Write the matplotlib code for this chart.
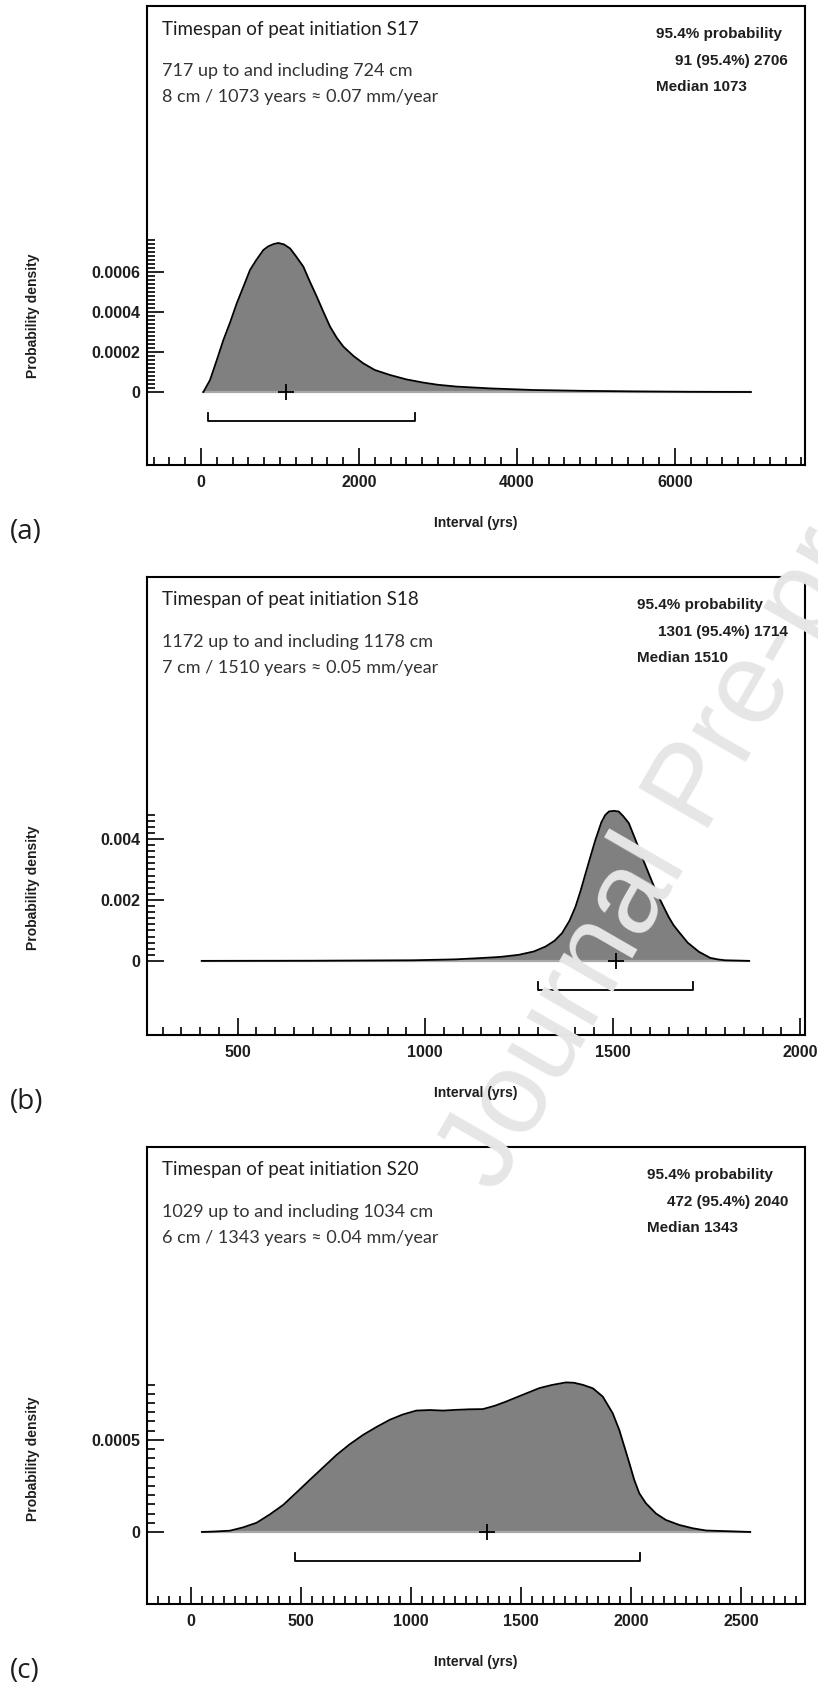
import numpy as np
import matplotlib
matplotlib.use('Agg')
import matplotlib.pyplot as plt

plt.rcParams['font.family'] = ['Liberation Sans', 'DejaVu Sans']

W, H = 818, 1691

# --- data ------------------------------------------------------------------
a_years = [30, 114, 200, 283, 370, 452, 540, 620, 700, 789, 850, 920, 979,
           1050, 1127, 1200, 1295, 1380, 1465, 1550, 1633, 1720, 1802, 1930,
           2055, 2200, 2393, 2600, 2814, 3000, 3237, 3659, 4200, 4800, 5500,
           6200, 6960]
a_dens = [0, 0.00006, 0.00016, 0.00026, 0.00035, 0.000443, 0.00053, 0.00061,
          0.00066, 0.00071, 0.000728, 0.00074, 0.000745, 0.000738, 0.000718,
          0.00068, 0.000627, 0.00055, 0.000477, 0.0004, 0.000327, 0.00027,
          0.000227, 0.00018, 0.000143, 0.00011, 0.000085, 0.000063, 0.000047,
          0.000036, 0.000027, 0.000018, 0.00001, 0.000006, 0.000003, 0.000001,
          0]

b_years = [404, 700, 966, 1080, 1144, 1200, 1250, 1290, 1321, 1345, 1365,
           1385, 1401, 1415, 1428, 1441, 1454, 1470, 1480, 1490, 1503, 1516,
           1528, 1543, 1560, 1578, 1596, 1614, 1632, 1649, 1662, 1676, 1688,
           1700, 1715, 1730, 1745, 1760, 1780, 1800, 1864]
b_dens = [0, 0.000005, 0.00002, 0.00005, 0.00009, 0.00013, 0.0002, 0.00031,
          0.00047, 0.00066, 0.00091, 0.00132, 0.00178, 0.00232, 0.00288,
          0.00343, 0.00397, 0.00455, 0.00478, 0.0049, 0.00492, 0.0049, 0.00475,
          0.00452, 0.004, 0.00342, 0.00287, 0.00233, 0.00187, 0.00145, 0.00118,
          0.00096, 0.00078, 0.0006, 0.00045, 0.0003, 0.0002, 0.0001, 0.00005,
          0.00002, 0]

c_years = [50, 100, 177, 237, 298, 358, 419, 480, 540, 600, 661, 720, 782, 843,
           903, 963, 1024, 1085, 1145, 1205, 1264, 1326, 1380, 1432, 1508, 1583,
           1640, 1704, 1740, 1780, 1826, 1871, 1916, 1946, 1969, 1992, 2014,
           2037, 2067, 2113, 2158, 2219, 2280, 2340, 2541]
c_dens = [0, 0.000002, 0.000007, 0.000025, 0.00005, 0.000095, 0.000147,
          0.000215, 0.000283, 0.00035, 0.000418, 0.000475, 0.000527, 0.00057,
          0.000609, 0.000638, 0.000659, 0.000662, 0.000659, 0.000663, 0.000666,
          0.000667, 0.000685, 0.000708, 0.000745, 0.000781, 0.000798, 0.000812,
          0.00081, 0.000799, 0.00078, 0.000735, 0.000645, 0.000554, 0.000464,
          0.000373, 0.000283, 0.00021, 0.000156, 0.0001, 0.000065, 0.000038,
          0.00002, 0.000008, 0]

ranges = [(91, 2706), (1301, 1714), (472, 2040)]
medians = [1073, 1510, 1343]

titles = ['Timespan of peat initiation S17',
          'Timespan of peat initiation S18',
          'Timespan of peat initiation S20']
depths = ['717 up to and including 724 cm',
          '1172 up to and including 1178 cm',
          '1029 up to and including 1034 cm']
rates = ['8 cm / 1073 years \u2248 0.07 mm/year',
         '7 cm / 1510 years \u2248 0.05 mm/year',
         '6 cm / 1343 years \u2248 0.04 mm/year']
letters = ['(a)', '(b)', '(c)']

# --- per panel layout ------------------------------------------------------
frame_top = [6, 577, 1147]       # px from top
frame_bot = [465, 1035, 1604]
xlims = [(-684, 7646), (258, 2013), (-200, 2790)]
ylims = [(-0.000365, 0.00193), (-0.00243, 0.01259), (-0.000391, 0.00209)]
xmajor = [2000, 500, 500]
xminor = [200, 50, 50]
ymajor = [[0, 0.0002, 0.0004, 0.0006], [0, 0.002, 0.004], [0, 0.0005]]
ylabels = [['0', '0.0002', '0.0004', '0.0006'], ['0', '0.002', '0.004'],
           ['0', '0.0005']]
yminor_step = [0.00002, 0.0002, 0.00005]
ytop = [0.00076, 0.0048, 0.0008]
right_x = [656, 637, 647]

L, R = 147, 805
INK = '#1e1e1e'

fig = plt.figure(figsize=(W / 100, H / 100), dpi=100)


def fx(px):
    return px / W


def fy(py):
    return 1 - py / H


# watermark, behind everything
fig.text(fx(695), fy(790), 'Journal Pre-proof', rotation=60, fontsize=84,
         color='#e6e6e6', ha='center', va='center', zorder=0)

data = [(a_years, a_dens), (b_years, b_dens), (c_years, c_dens)]

for i in range(3):
    x, y = data[i]
    ax = fig.add_axes([fx(L), fy(frame_bot[i]), (R - L) / W,
                       (frame_bot[i] - frame_top[i]) / H])
    ax.set_facecolor('none')
    ax.set_xlim(*xlims[i])
    ax.set_ylim(*ylims[i])

    ax.fill_between(x, 0, y, color='#808080', lw=0, zorder=2)
    ax.plot(x, y, color='black', lw=1.3, zorder=3)
    ax.plot([x[0], x[-1]], [0, 0], color='#a8a8a8', lw=1.6, zorder=2)
    ax.plot([medians[i]], [0], marker='+', ms=12, mew=1.3, color='black',
            zorder=4)

    # 95.4% range bar
    yr = ylims[i][1] - ylims[i][0]
    px_unit = yr / (frame_bot[i] - frame_top[i])
    by = -29 * px_unit
    lo, hi = ranges[i]
    ax.plot([lo, lo, hi, hi], [by + 8 * px_unit, by, by, by + 8 * px_unit],
            color='black', lw=1.3, zorder=4)

    for s in ax.spines.values():
        s.set_linewidth(1.5)
    ax.xaxis.set_major_locator(plt.MultipleLocator(xmajor[i]))
    ax.xaxis.set_minor_locator(plt.MultipleLocator(xminor[i]))
    ax.set_yticks(ymajor[i])
    ax.set_yticklabels(ylabels[i])
    ax.set_yticks(np.arange(0, ytop[i] + 1e-12, yminor_step[i]), minor=True)
    ax.tick_params(axis='both', which='both', direction='in', top=False,
                   right=False, width=1.2)
    ax.tick_params(axis='both', which='major', length=12)
    ax.tick_params(axis='both', which='minor', length=6)
    ax.tick_params(axis='x', which='major', pad=7, labelsize=11.5)
    ax.tick_params(axis='y', which='major', pad=5, labelsize=11.5)
    for lab in ax.get_xticklabels() + ax.get_yticklabels():
        lab.set_fontweight('bold')
        lab.set_color(INK)

    top = frame_top[i]
    fig.text(fx(162), fy(top + 23), titles[i], fontsize=13.5, family='Lato',
             va='center', color=INK)
    fig.text(fx(162), fy(top + 65), depths[i], fontsize=13, family='Lato',
             va='center', color='#333333')
    fig.text(fx(162), fy(top + 91), rates[i], fontsize=13,
             family=['Lato', 'DejaVu Sans'], va='center', color='#333333')
    rx = right_x[i]
    fig.text(fx(rx), fy(top + 28), '95.4% probability', fontsize=11,
             weight='bold', va='center', color=INK)
    fig.text(fx(788), fy(top + 55), '%d (95.4%%) %d' % ranges[i], fontsize=11,
             weight='bold', va='center', ha='right', color=INK)
    fig.text(fx(rx), fy(top + 81), 'Median %d' % medians[i], fontsize=11,
             weight='bold', va='center', color=INK)

    # axis labels
    zero_px = frame_top[i] + (ylims[i][1] - 0) / px_unit
    tick_px = frame_top[i] + (ylims[i][1] - ytop[i]) / px_unit
    fig.text(fx(33), fy((zero_px + tick_px) / 2), 'Probability density',
             rotation=90, fontsize=10, weight='bold', ha='center',
             va='center', color=INK)
    fig.text(fx((L + R) / 2), fy(frame_bot[i] + 58), 'Interval (yrs)',
             fontsize=10, weight='bold', ha='center', va='center', color=INK)
    fig.text(fx(10), fy(frame_bot[i] + 67), letters[i], fontsize=20,
             family='Open Sans', va='center', color=INK)

fig.savefig('out.png', dpi=100)
